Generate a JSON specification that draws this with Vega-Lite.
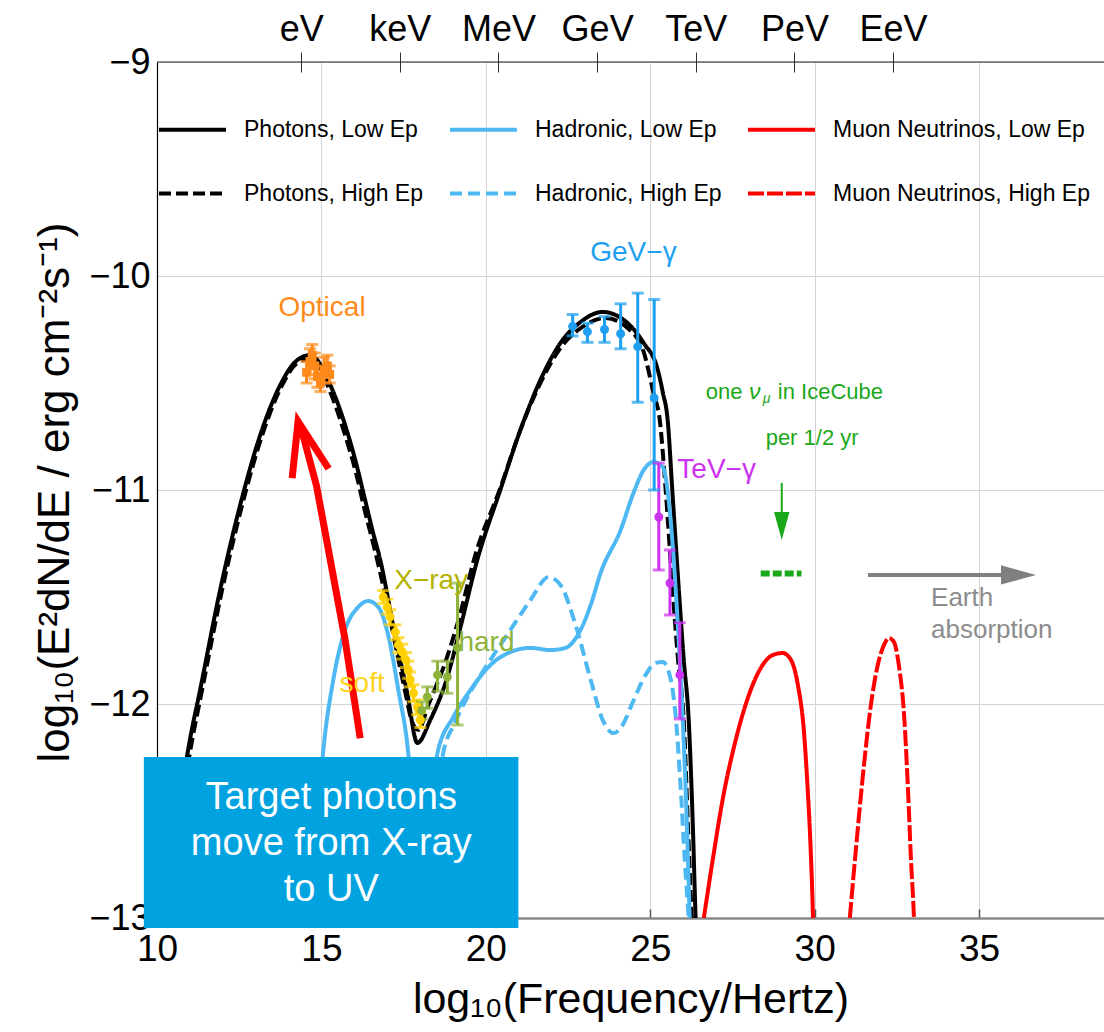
{
"$schema": "https://vega.github.io/schema/vega-lite/v6.json",
"width": 947,
"height": 856,
"autosize": "none",
"padding": {"left": 157, "top": 62, "right": 0, "bottom": 114},
"background": "white",
"config": {
  "font": "Liberation Sans",
  "view": {"stroke": null},
  "axis": {"labelFont": "Liberation Sans", "titleFont": "Liberation Sans", "labelColor": "#000", "titleColor": "#000", "titleFontWeight": "normal", "gridColor": "#d4d4d4", "gridWidth": 1},
  "legend": {"labelFont": "Liberation Sans", "orient": "none", "legendX": 0, "legendY": 32, "columns": 3, "columnPadding": 18, "rowPadding": 16, "symbolType": "stroke", "symbolSize": 4489, "labelFontSize": 23, "labelOffset": 16, "labelLimit": 400, "padding": 0, "symbolOpacity": 1, "labelColor": "#000"}
},
"datasets": {
  "curves": [
    {"s":"Photons, Low Ep","x":10.70,"y":-12.449},{"s":"Photons, Low Ep","x":11.00,"y":-12.168},{"s":"Photons, Low Ep","x":11.31,"y":-11.935},{"s":"Photons, Low Ep","x":11.92,"y":-11.467},{"s":"Photons, Low Ep","x":12.53,"y":-11.070},{"s":"Photons, Low Ep","x":13.14,"y":-10.743},{"s":"Photons, Low Ep","x":13.75,"y":-10.509},{"s":"Photons, Low Ep","x":14.20,"y":-10.402},{"s":"Photons, Low Ep","x":14.66,"y":-10.369},{"s":"Photons, Low Ep","x":15.27,"y":-10.509},{"s":"Photons, Low Ep","x":15.72,"y":-10.696},{"s":"Photons, Low Ep","x":16.03,"y":-10.860},{"s":"Photons, Low Ep","x":16.33,"y":-11.047},{"s":"Photons, Low Ep","x":16.55,"y":-11.187},{"s":"Photons, Low Ep","x":16.79,"y":-11.327},{"s":"Photons, Low Ep","x":17.19,"y":-11.640},{"s":"Photons, Low Ep","x":17.61,"y":-11.949},{"s":"Photons, Low Ep","x":17.92,"y":-12.182},{"s":"Photons, Low Ep","x":18.31,"y":-12.075},{"s":"Photons, Low Ep","x":18.83,"y":-11.874},{"s":"Photons, Low Ep","x":19.23,"y":-11.640},{"s":"Photons, Low Ep","x":19.74,"y":-11.327},{"s":"Photons, Low Ep","x":20.44,"y":-11.0},{"s":"Photons, Low Ep","x":21.05,"y":-10.720},{"s":"Photons, Low Ep","x":21.66,"y":-10.486},{"s":"Photons, Low Ep","x":22.27,"y":-10.313},{"s":"Photons, Low Ep","x":22.88,"y":-10.215},{"s":"Photons, Low Ep","x":23.55,"y":-10.168},{"s":"Photons, Low Ep","x":24.31,"y":-10.220},{"s":"Photons, Low Ep","x":24.80,"y":-10.313},{"s":"Photons, Low Ep","x":25.23,"y":-10.439},{"s":"Photons, Low Ep","x":25.38,"y":-10.542},{"s":"Photons, Low Ep","x":25.53,"y":-10.673},{"s":"Photons, Low Ep","x":25.68,"y":-11.023},{"s":"Photons, Low Ep","x":25.86,"y":-11.444},{"s":"Photons, Low Ep","x":26.02,"y":-11.794},{"s":"Photons, Low Ep","x":26.17,"y":-12.075},{"s":"Photons, Low Ep","x":26.29,"y":-12.542},{"s":"Photons, Low Ep","x":26.38,"y":-13.0},{"s":"Photons, Low Ep","x":26.44,"y":-13.243},
    {"s":"Photons, High Ep","x":10.76,"y":-12.449},{"s":"Photons, High Ep","x":11.07,"y":-12.168},{"s":"Photons, High Ep","x":11.37,"y":-11.935},{"s":"Photons, High Ep","x":11.98,"y":-11.467},{"s":"Photons, High Ep","x":12.59,"y":-11.070},{"s":"Photons, High Ep","x":13.20,"y":-10.743},{"s":"Photons, High Ep","x":13.81,"y":-10.509},{"s":"Photons, High Ep","x":14.26,"y":-10.407},{"s":"Photons, High Ep","x":14.72,"y":-10.383},{"s":"Photons, High Ep","x":15.27,"y":-10.542},{"s":"Photons, High Ep","x":15.72,"y":-10.743},{"s":"Photons, High Ep","x":16.03,"y":-10.907},{"s":"Photons, High Ep","x":16.33,"y":-11.103},{"s":"Photons, High Ep","x":16.64,"y":-11.290},{"s":"Photons, High Ep","x":16.94,"y":-11.491},{"s":"Photons, High Ep","x":17.25,"y":-11.724},{"s":"Photons, High Ep","x":17.55,"y":-11.944},{"s":"Photons, High Ep","x":17.76,"y":-12.084},{"s":"Photons, High Ep","x":17.95,"y":-12.121},{"s":"Photons, High Ep","x":18.25,"y":-12.005},{"s":"Photons, High Ep","x":18.77,"y":-11.804},{"s":"Photons, High Ep","x":19.17,"y":-11.607},{"s":"Photons, High Ep","x":19.68,"y":-11.304},{"s":"Photons, High Ep","x":20.44,"y":-10.991},{"s":"Photons, High Ep","x":21.05,"y":-10.720},{"s":"Photons, High Ep","x":21.66,"y":-10.500},{"s":"Photons, High Ep","x":22.27,"y":-10.336},{"s":"Photons, High Ep","x":22.94,"y":-10.238},{"s":"Photons, High Ep","x":23.64,"y":-10.196},{"s":"Photons, High Ep","x":24.31,"y":-10.243},{"s":"Photons, High Ep","x":24.80,"y":-10.355},{"s":"Photons, High Ep","x":25.10,"y":-10.547},{"s":"Photons, High Ep","x":25.29,"y":-10.673},{"s":"Photons, High Ep","x":25.47,"y":-11.0},{"s":"Photons, High Ep","x":25.68,"y":-11.467},{"s":"Photons, High Ep","x":25.86,"y":-11.818},{"s":"Photons, High Ep","x":26.02,"y":-12.075},{"s":"Photons, High Ep","x":26.14,"y":-12.542},{"s":"Photons, High Ep","x":26.26,"y":-13.0},{"s":"Photons, High Ep","x":26.32,"y":-13.243},
    {"s":"Hadronic, Low Ep","x":14.72,"y":-13.0},{"s":"Hadronic, Low Ep","x":14.84,"y":-12.636},{"s":"Hadronic, Low Ep","x":15.05,"y":-12.229},{"s":"Hadronic, Low Ep","x":15.36,"y":-11.888},{"s":"Hadronic, Low Ep","x":15.72,"y":-11.654},{"s":"Hadronic, Low Ep","x":16.12,"y":-11.547},{"s":"Hadronic, Low Ep","x":16.42,"y":-11.519},{"s":"Hadronic, Low Ep","x":16.73,"y":-11.547},{"s":"Hadronic, Low Ep","x":17.03,"y":-11.678},{"s":"Hadronic, Low Ep","x":17.34,"y":-11.935},{"s":"Hadronic, Low Ep","x":17.64,"y":-12.229},{"s":"Hadronic, Low Ep","x":17.83,"y":-12.589},{"s":"Hadronic, Low Ep","x":17.95,"y":-13.0},{"s":"Hadronic, Low Ep","x":18.13,"y":-13.336},{"s":"Hadronic, Low Ep","x":18.31,"y":-13.0},{"s":"Hadronic, Low Ep","x":18.53,"y":-12.229},{"s":"Hadronic, Low Ep","x":19.01,"y":-12.061},{"s":"Hadronic, Low Ep","x":19.53,"y":-11.935},{"s":"Hadronic, Low Ep","x":20.14,"y":-11.818},{"s":"Hadronic, Low Ep","x":20.75,"y":-11.757},{"s":"Hadronic, Low Ep","x":21.36,"y":-11.738},{"s":"Hadronic, Low Ep","x":21.97,"y":-11.748},{"s":"Hadronic, Low Ep","x":22.42,"y":-11.738},{"s":"Hadronic, Low Ep","x":22.88,"y":-11.654},{"s":"Hadronic, Low Ep","x":23.19,"y":-11.537},{"s":"Hadronic, Low Ep","x":23.49,"y":-11.388},{"s":"Hadronic, Low Ep","x":24.10,"y":-11.187},{"s":"Hadronic, Low Ep","x":24.49,"y":-11.014},{"s":"Hadronic, Low Ep","x":24.80,"y":-10.907},{"s":"Hadronic, Low Ep","x":25.10,"y":-10.869},{"s":"Hadronic, Low Ep","x":25.38,"y":-10.893},{"s":"Hadronic, Low Ep","x":25.62,"y":-11.140},{"s":"Hadronic, Low Ep","x":25.83,"y":-11.607},{"s":"Hadronic, Low Ep","x":25.99,"y":-12.075},{"s":"Hadronic, Low Ep","x":26.11,"y":-12.542},{"s":"Hadronic, Low Ep","x":26.20,"y":-13.0},
    {"s":"Hadronic, High Ep","x":18.31,"y":-13.0},{"s":"Hadronic, High Ep","x":18.50,"y":-12.449},{"s":"Hadronic, High Ep","x":18.68,"y":-12.248},{"s":"Hadronic, High Ep","x":19.07,"y":-12.084},{"s":"Hadronic, High Ep","x":19.53,"y":-11.944},{"s":"Hadronic, High Ep","x":20.14,"y":-11.794},{"s":"Hadronic, High Ep","x":20.75,"y":-11.654},{"s":"Hadronic, High Ep","x":21.36,"y":-11.514},{"s":"Hadronic, High Ep","x":21.91,"y":-11.407},{"s":"Hadronic, High Ep","x":22.27,"y":-11.444},{"s":"Hadronic, High Ep","x":22.73,"y":-11.631},{"s":"Hadronic, High Ep","x":23.19,"y":-11.888},{"s":"Hadronic, High Ep","x":23.58,"y":-12.084},{"s":"Hadronic, High Ep","x":23.89,"y":-12.136},{"s":"Hadronic, High Ep","x":24.16,"y":-12.098},{"s":"Hadronic, High Ep","x":24.46,"y":-11.995},{"s":"Hadronic, High Ep","x":24.86,"y":-11.864},{"s":"Hadronic, High Ep","x":25.16,"y":-11.808},{"s":"Hadronic, High Ep","x":25.38,"y":-11.804},{"s":"Hadronic, High Ep","x":25.59,"y":-11.864},{"s":"Hadronic, High Ep","x":25.77,"y":-12.051},{"s":"Hadronic, High Ep","x":25.93,"y":-12.402},{"s":"Hadronic, High Ep","x":26.05,"y":-12.729},{"s":"Hadronic, High Ep","x":26.17,"y":-13.0},
    {"s":"Muon Neutrinos, Low Ep","x":26.63,"y":-13.0},{"s":"Muon Neutrinos, Low Ep","x":26.90,"y":-12.729},{"s":"Muon Neutrinos, Low Ep","x":27.20,"y":-12.449},{"s":"Muon Neutrinos, Low Ep","x":27.60,"y":-12.168},{"s":"Muon Neutrinos, Low Ep","x":28.00,"y":-11.958},{"s":"Muon Neutrinos, Low Ep","x":28.36,"y":-11.832},{"s":"Muon Neutrinos, Low Ep","x":28.73,"y":-11.771},{"s":"Muon Neutrinos, Low Ep","x":29.03,"y":-11.762},{"s":"Muon Neutrinos, Low Ep","x":29.28,"y":-11.794},{"s":"Muon Neutrinos, Low Ep","x":29.49,"y":-11.911},{"s":"Muon Neutrinos, Low Ep","x":29.67,"y":-12.121},{"s":"Muon Neutrinos, Low Ep","x":29.79,"y":-12.402},{"s":"Muon Neutrinos, Low Ep","x":29.88,"y":-12.682},{"s":"Muon Neutrinos, Low Ep","x":29.95,"y":-13.0},{"s":"Muon Neutrinos, Low Ep","x":29.98,"y":-13.196},
    {"s":"Muon Neutrinos, High Ep","x":31.07,"y":-13.0},{"s":"Muon Neutrinos, High Ep","x":31.28,"y":-12.636},{"s":"Muon Neutrinos, High Ep","x":31.50,"y":-12.285},{"s":"Muon Neutrinos, High Ep","x":31.71,"y":-12.005},{"s":"Muon Neutrinos, High Ep","x":31.92,"y":-11.818},{"s":"Muon Neutrinos, High Ep","x":32.11,"y":-11.724},{"s":"Muon Neutrinos, High Ep","x":32.26,"y":-11.692},{"s":"Muon Neutrinos, High Ep","x":32.41,"y":-11.710},{"s":"Muon Neutrinos, High Ep","x":32.56,"y":-11.818},{"s":"Muon Neutrinos, High Ep","x":32.72,"y":-12.051},{"s":"Muon Neutrinos, High Ep","x":32.84,"y":-12.402},{"s":"Muon Neutrinos, High Ep","x":32.93,"y":-12.729},{"s":"Muon Neutrinos, High Ep","x":33.02,"y":-13.0},{"s":"Muon Neutrinos, High Ep","x":33.06,"y":-13.2}
  ],
  "pts": [
    {"g":"opt","x":14.55,"y":-10.45,"lo":-10.50,"hi":-10.40},{"g":"opt","x":14.65,"y":-10.40,"lo":-10.46,"hi":-10.34},{"g":"opt","x":14.72,"y":-10.37,"lo":-10.42,"hi":-10.32},{"g":"opt","x":14.80,"y":-10.42,"lo":-10.48,"hi":-10.36},{"g":"opt","x":14.88,"y":-10.47,"lo":-10.52,"hi":-10.42},{"g":"opt","x":14.97,"y":-10.50,"lo":-10.54,"hi":-10.46},{"g":"opt","x":15.08,"y":-10.44,"lo":-10.50,"hi":-10.38},{"g":"opt","x":15.18,"y":-10.42,"lo":-10.47,"hi":-10.37},{"g":"opt","x":15.25,"y":-10.46,"lo":-10.50,"hi":-10.42},
    {"g":"soft","x":16.88,"y":-11.50,"lo":-11.53,"hi":-11.47},{"g":"soft","x":17.00,"y":-11.547,"lo":-11.58,"hi":-11.51},{"g":"soft","x":17.09,"y":-11.593,"lo":-11.63,"hi":-11.56},{"g":"soft","x":17.25,"y":-11.664,"lo":-11.70,"hi":-11.63},{"g":"soft","x":17.34,"y":-11.724,"lo":-11.76,"hi":-11.69},{"g":"soft","x":17.46,"y":-11.757,"lo":-11.79,"hi":-11.72},{"g":"soft","x":17.57,"y":-11.794,"lo":-11.83,"hi":-11.76},{"g":"soft","x":17.64,"y":-11.841,"lo":-11.88,"hi":-11.80},{"g":"soft","x":17.70,"y":-11.888,"lo":-11.92,"hi":-11.85},{"g":"soft","x":17.80,"y":-11.949,"lo":-11.99,"hi":-11.91},{"g":"soft","x":17.92,"y":-12.014,"lo":-12.05,"hi":-11.98},{"g":"soft","x":18.01,"y":-12.075,"lo":-12.11,"hi":-12.04},
    {"g":"hard","x":18.05,"y":-12.03,"lo":-12.07,"hi":-11.99},{"g":"hard","x":18.22,"y":-11.967,"lo":-12.02,"hi":-11.92},{"g":"hard","x":18.53,"y":-11.864,"lo":-11.94,"hi":-11.80},{"g":"hard","x":18.83,"y":-11.874,"lo":-11.95,"hi":-11.80},{"g":"hard","x":19.14,"y":-11.738,"lo":-12.098,"hi":-11.435},
    {"g":"GeV","x":22.64,"y":-10.235,"lo":-10.28,"hi":-10.18},{"g":"GeV","x":23.09,"y":-10.26,"lo":-10.31,"hi":-10.22},{"g":"GeV","x":23.61,"y":-10.25,"lo":-10.31,"hi":-10.19},{"g":"GeV","x":24.10,"y":-10.27,"lo":-10.34,"hi":-10.13},{"g":"GeV","x":24.62,"y":-10.33,"lo":-10.59,"hi":-10.08},{"g":"GeV","x":25.12,"y":-10.57,"lo":-11.0,"hi":-10.11},
    {"g":"TeV","x":25.26,"y":-11.126,"lo":-11.374,"hi":-10.874},{"g":"TeV","x":25.60,"y":-11.435,"lo":-11.584,"hi":-11.28},{"g":"TeV","x":25.90,"y":-11.864,"lo":-12.07,"hi":-11.62}
  ],
  "labels": [
    {"t":"Optical","g":"opt","x":15.02,"y":-10.15},
    {"t":"GeV−γ","g":"GeV","x":24.49,"y":-9.893},
    {"t":"TeV−γ","g":"TeV","x":27.02,"y":-10.907},
    {"t":"X−ray","g":"xray","x":18.34,"y":-11.425},
    {"t":"hard","g":"hard","x":20.02,"y":-11.715},
    {"t":"soft","g":"soft","x":16.24,"y":-11.907}
  ],
  "ice": [
    {"t":"one","x":26.69,"y":-10.542},
    {"t":"in IceCube","x":28.88,"y":-10.542},
    {"t":"per 1/2 yr","x":28.51,"y":-10.757}
  ],
  "boxtext": [
    {"t":"Target photons","x":15.30,"y":-12.440},
    {"t":"move from X-ray","x":15.30,"y":-12.655},
    {"t":"to UV","x":15.30,"y":-12.870}
  ],
  "redarrow": [
    {"p":"shaft","o":1,"x":16.18,"y":-12.16},{"p":"shaft","o":2,"x":15.72,"y":-11.70},{"p":"shaft","o":3,"x":15.27,"y":-11.327},{"p":"shaft","o":4,"x":14.85,"y":-10.98},{"p":"shaft","o":5,"x":14.40,"y":-10.72},
    {"p":"head","o":1,"x":14.11,"y":-10.944},{"p":"head","o":2,"x":14.29,"y":-10.68},{"p":"head","o":3,"x":15.22,"y":-10.90}
  ]
},
"layer": [
  {
    "data": {"values": [{"a": 10, "b": 38.8, "y": -9}]},
    "mark": {"type": "rule", "color": "#222", "strokeWidth": 1.2},
    "encoding": {
      "x": {"field": "a", "type": "quantitative", "axis": {"orient": "top", "values": [14.385, 17.385, 20.385, 23.385, 26.385, 29.385, 32.385], "labelExpr": "['eV','keV','MeV','GeV','TeV','PeV','EeV'][round((datum.value-14.385)/3)]", "offset": -10, "tickSize": 20, "tickColor": "#333", "tickWidth": 1, "domain": false, "grid": false, "labelFontSize": 36, "labelPadding": 12, "labelBaseline": "alphabetic", "title": null, "labelFlush": false, "labelOverlap": false}},
      "x2": {"field": "b"},
      "y": {"field": "y", "type": "quantitative"}
    }
  },
  {
    "data": {"name": "curves"},
    "mark": {"type": "line", "clip": true, "strokeCap": "butt", "strokeJoin": "round", "interpolate": "monotone"},
    "encoding": {
      "x": {"field": "x", "type": "quantitative", "scale": {"domain": [10, 38.8], "nice": false, "zero": false}, "axis": {"orient": "bottom", "values": [10, 15, 20, 25, 30, 35], "grid": true, "domainColor": "#8a8a8a", "domainWidth": 2.5, "tickSize": -9, "tickColor": "#555", "tickWidth": 1.5, "labelFontSize": 37, "labelPadding": 22, "labelFlush": false, "title": "log₁₀(Frequency/Hertz)", "titleFontSize": 43, "titleY": 94, "titleBaseline": "alphabetic"}},
      "y": {"field": "y", "type": "quantitative", "scale": {"domain": [-13, -9], "nice": false, "zero": false}, "axis": {"values": [-9, -10, -11, -12, -13], "format": "d", "grid": true, "domainColor": "#000", "domainWidth": 1.2, "tickSize": 0, "labelFontSize": 36, "labelPadding": 7, "title": "log₁₀(E²dN/dE / erg cm⁻²s⁻¹)", "titleFontSize": 44, "titleX": -102, "titleY": 430, "titleAngle": -90, "titleBaseline": "middle", "titleAlign": "center"}},
      "color": {"field": "s", "type": "nominal", "scale": {"domain": ["Photons, Low Ep", "Photons, High Ep", "Hadronic, Low Ep", "Hadronic, High Ep", "Muon Neutrinos, Low Ep", "Muon Neutrinos, High Ep"], "range": ["#000000", "#000000", "#4db8f2", "#4db8f2", "#ff0000", "#ff0000"]}, "legend": {"title": null}},
      "strokeDash": {"field": "s", "type": "nominal", "scale": {"domain": ["Photons, Low Ep", "Photons, High Ep", "Hadronic, Low Ep", "Hadronic, High Ep", "Muon Neutrinos, Low Ep", "Muon Neutrinos, High Ep"], "range": [[1, 0], [12, 5], [1, 0], [12, 6], [1, 0], [16, 3]]}, "legend": {"title": null}},
      "strokeWidth": {"field": "s", "type": "nominal", "scale": {"domain": ["Photons, Low Ep", "Photons, High Ep", "Hadronic, Low Ep", "Hadronic, High Ep", "Muon Neutrinos, Low Ep", "Muon Neutrinos, High Ep"], "range": [4, 4, 3.5, 3.5, 6, 6]}, "legend": {"title": null}}
    }
  },
  {
    "data": {"name": "pts"},
    "encoding": {
      "x": {"field": "x", "type": "quantitative", "axis": null},
      "color": {"field": "g", "type": "nominal", "scale": {"domain": ["GeV", "TeV", "soft", "hard", "opt"], "range": ["#1e9ff0", "#cc33ee", "#ffd000", "#8db33a", "#ff8a1a"]}, "legend": null}
    },
    "layer": [
      {"mark": {"type": "rule", "strokeWidth": 3}, "encoding": {"y": {"field": "lo", "type": "quantitative"}, "y2": {"field": "hi"}}},
      {"mark": {"type": "tick", "orient": "horizontal", "size": 12, "thickness": 3}, "encoding": {"y": {"field": "lo", "type": "quantitative"}}},
      {"mark": {"type": "tick", "orient": "horizontal", "size": 12, "thickness": 3}, "encoding": {"y": {"field": "hi", "type": "quantitative"}}},
      {"mark": {"type": "point", "filled": true, "size": 80, "opacity": 1}, "encoding": {"y": {"field": "y", "type": "quantitative"}, "shape": {"field": "g", "type": "nominal", "scale": {"domain": ["GeV", "TeV", "soft", "hard", "opt"], "range": ["circle", "circle", "circle", "circle", "square"]}, "legend": null}}}
    ]
  },
  {
    "data": {"values": [{"x": 28.36, "x2": 29.6, "y": -11.39}]},
    "mark": {"type": "rule", "color": "#1aa81a", "strokeWidth": 6, "strokeDash": [9, 3]},
    "encoding": {"x": {"field": "x", "type": "quantitative", "axis": null}, "x2": {"field": "x2"}, "y": {"field": "y", "type": "quantitative"}}
  },
  {
    "data": {"values": [{"x": 29.0, "y": -10.967, "y2": -11.16}]},
    "mark": {"type": "rule", "color": "#1aa81a", "strokeWidth": 2},
    "encoding": {"x": {"field": "x", "type": "quantitative", "axis": null}, "y": {"field": "y", "type": "quantitative"}, "y2": {"field": "y2"}}
  },
  {
    "data": {"values": [{"x": 29.0, "y": -11.168}]},
    "mark": {"type": "point", "filled": true, "color": "#1aa81a", "opacity": 1, "shape": "M -0.55 -1 L 0.55 -1 L 0 1 Z", "size": 784},
    "encoding": {"x": {"field": "x", "type": "quantitative", "axis": null}, "y": {"field": "y", "type": "quantitative"}}
  },
  {
    "data": {"values": [{"x": 31.62, "x2": 35.9, "y": -11.397}]},
    "mark": {"type": "rule", "color": "#808080", "strokeWidth": 4},
    "encoding": {"x": {"field": "x", "type": "quantitative", "axis": null}, "x2": {"field": "x2"}, "y": {"field": "y", "type": "quantitative"}}
  },
  {
    "data": {"values": [{"x": 36.2, "y": -11.397}]},
    "mark": {"type": "point", "filled": true, "color": "#808080", "opacity": 1, "shape": "M -1 -0.55 L 1 0 L -1 0.55 Z", "size": 1225},
    "encoding": {"x": {"field": "x", "type": "quantitative", "axis": null}, "y": {"field": "y", "type": "quantitative"}}
  },
  {
    "data": {"name": "redarrow"},
    "mark": {"type": "line", "color": "#ff0000", "strokeWidth": 7, "strokeCap": "butt", "strokeJoin": "miter"},
    "encoding": {"x": {"field": "x", "type": "quantitative", "axis": null}, "y": {"field": "y", "type": "quantitative"}, "detail": {"field": "p"}, "order": {"field": "o"}}
  },
  {
    "data": {"values": [{"x": 9.6, "x2": 20.99, "y": -12.248, "y2": -13.047}]},
    "mark": {"type": "rect", "color": "#00a2e0"},
    "encoding": {"x": {"field": "x", "type": "quantitative", "axis": null}, "x2": {"field": "x2"}, "y": {"field": "y", "type": "quantitative"}, "y2": {"field": "y2"}}
  },
  {
    "data": {"name": "boxtext"},
    "mark": {"type": "text", "color": "white", "fontSize": 38, "align": "center", "baseline": "middle"},
    "encoding": {"x": {"field": "x", "type": "quantitative", "axis": null}, "y": {"field": "y", "type": "quantitative"}, "text": {"field": "t"}}
  },
  {
    "data": {"name": "labels"},
    "mark": {"type": "text", "fontSize": 28, "align": "center", "baseline": "middle"},
    "encoding": {"x": {"field": "x", "type": "quantitative", "axis": null}, "y": {"field": "y", "type": "quantitative"}, "text": {"field": "t"},
      "color": {"field": "g", "type": "nominal", "scale": {"domain": ["opt", "GeV", "TeV", "xray", "hard", "soft"], "range": ["#ff8c1a", "#1ea0f0", "#cc33ee", "#b3b300", "#8db33a", "#ffd21f"]}, "legend": null}}
  },
  {
    "data": {"name": "ice"},
    "mark": {"type": "text", "fontSize": 22, "align": "left", "baseline": "middle", "color": "#1aa81a"},
    "encoding": {"x": {"field": "x", "type": "quantitative", "axis": null}, "y": {"field": "y", "type": "quantitative"}, "text": {"field": "t"}}
  },
  {
    "data": {"values": [{"t": "ν", "x": 28.0, "y": -10.542}]},
    "mark": {"type": "text", "fontSize": 23, "fontStyle": "italic", "align": "left", "baseline": "middle", "color": "#1aa81a"},
    "encoding": {"x": {"field": "x", "type": "quantitative", "axis": null}, "y": {"field": "y", "type": "quantitative"}, "text": {"field": "t"}}
  },
  {
    "data": {"values": [{"t": "μ", "x": 28.42, "y": -10.542}]},
    "mark": {"type": "text", "fontSize": 14, "fontStyle": "italic", "align": "left", "baseline": "middle", "dy": 7, "color": "#1aa81a"},
    "encoding": {"x": {"field": "x", "type": "quantitative", "axis": null}, "y": {"field": "y", "type": "quantitative"}, "text": {"field": "t"}}
  },
  {
    "data": {"values": [{"t": "Earth", "x": 33.54, "y": -11.505}, {"t": "absorption", "x": 33.54, "y": -11.654}]},
    "mark": {"type": "text", "fontSize": 26, "align": "left", "baseline": "middle", "color": "#8c8c8c"},
    "encoding": {"x": {"field": "x", "type": "quantitative", "axis": null}, "y": {"field": "y", "type": "quantitative"}, "text": {"field": "t"}}
  }
],
"resolve": {"axis": {"x": "independent"}, "scale": {"color": "independent", "strokeDash": "independent", "strokeWidth": "independent"}}
}
